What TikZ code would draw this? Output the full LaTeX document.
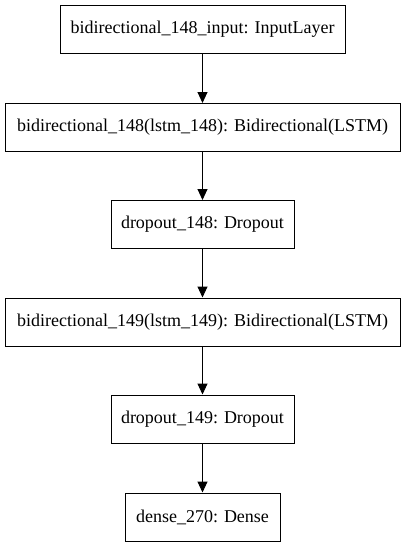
\documentclass[tikz,border=0pt]{standalone}
\usepackage{fontspec}
\setmainfont{Liberation Serif}
\usetikzlibrary{arrows.meta}
\begin{document}
\begin{tikzpicture}[x=1pt,y=1pt,
  layer/.style={draw=black,line width=1pt,minimum height=48pt,inner sep=0pt,font=\fontsize{18}{20}\selectfont},
  conn/.style={line width=1pt,-{Triangle[width=10pt,length=11pt]}}]
\useasboundingbox (0,0) rectangle (405,-547);
\node[layer,minimum width=285pt] (n1) at (202.5,-29) {bidirectional\_148\_input: InputLayer};
\node[layer,minimum width=395pt] (n2) at (202.5,-127.5) {bidirectional\_148(lstm\_148): Bidirectional(LSTM)};
\node[layer,minimum width=183pt] (n3) at (202.5,-224.5) {dropout\_148: Dropout};
\node[layer,minimum width=395pt] (n4) at (202.5,-322) {bidirectional\_149(lstm\_149): Bidirectional(LSTM)};
\node[layer,minimum width=183pt] (n5) at (202.5,-419) {dropout\_149: Dropout};
\node[layer,minimum width=155pt] (n6) at (202.5,-517) {dense\_270: Dense};
\draw[conn] (n1) -- (n2);
\draw[conn] (n2) -- (n3);
\draw[conn] (n3) -- (n4);
\draw[conn] (n4) -- (n5);
\draw[conn] (n5) -- (n6);
\end{tikzpicture}
\end{document}
